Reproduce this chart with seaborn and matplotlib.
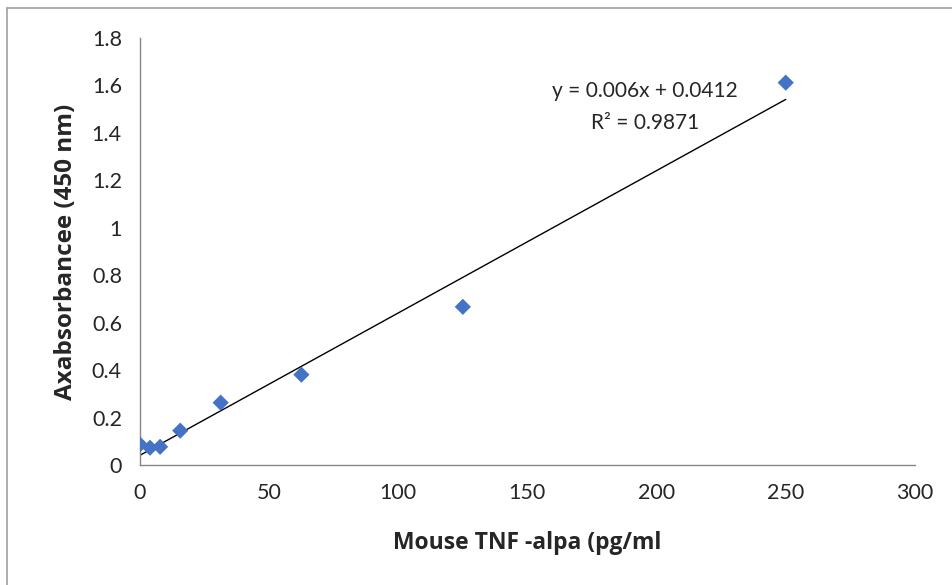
import numpy as np
import pandas as pd
import matplotlib
matplotlib.use("Agg")
import matplotlib.pyplot as plt
from matplotlib.lines import Line2D
import seaborn as sns

# standard concentrations and absorbance readings
conc = [0, 3.9, 7.8, 15.6, 31.25, 62.5, 125, 250]
absorb = [0.087, 0.073, 0.077, 0.145, 0.263, 0.381, 0.667, 1.612]
slope = 0.006
intercept = 0.0412

df = pd.DataFrame({"conc": conc, "abs": absorb})

sns.set_style("white")
plt.rcParams['font.family'] = ['Lato', 'DejaVu Sans']

fig = plt.figure(figsize=(9.52, 5.85), dpi=100)
ax = fig.add_axes([0.147, 0.205, 0.814, 0.730])

sns.scatterplot(data=df, x="conc", y="abs", marker="D", s=68,
                color="#4472C4", edgecolor="none", ax=ax, zorder=3)

# linear trendline
xs = np.array([min(conc), max(conc)])
ax.plot(xs, slope * xs + intercept, color="black", lw=1.0, zorder=2)

ax.text(0.652, 0.877, "y = 0.006x + 0.0412", transform=ax.transAxes,
        ha="center", va="center", fontsize=15)
ax.text(0.652, 0.802, "R² = 0.9871", transform=ax.transAxes,
        ha="center", va="center", fontsize=15)

ax.set_xlim(0, 300)
ax.set_ylim(0, 1.8)
ax.set_xticks(range(0, 301, 50))
ax.set_yticks(np.arange(0, 1.81, 0.2))
ax.set_yticklabels(["0", "0.2", "0.4", "0.6", "0.8", "1", "1.2", "1.4", "1.6", "1.8"])

ax.set_xlabel("Mouse TNF -alpa (pg/ml", fontsize=16.5, fontweight="bold",
              family="Open Sans", labelpad=20)
ax.set_ylabel("Axabsorbancee (450 nm)", fontsize=17.5, fontweight="bold",
              family="Open Sans", labelpad=10)

for side in ["top", "right"]:
    ax.spines[side].set_visible(False)
for side in ["left", "bottom"]:
    ax.spines[side].set_color("#868686")
    ax.spines[side].set_linewidth(1.0)
ax.tick_params(axis="both", direction="inout", length=10, width=1.0,
               color="#868686", labelsize=15.5, pad=8)
ax.grid(False)

# chart area border (left and top edges visible)
fig.add_artist(Line2D([7 / 952, 7 / 952], [0, 1 - 8 / 585], color="#a0a0a0", lw=1.2))
fig.add_artist(Line2D([7 / 952, 1], [1 - 8 / 585, 1 - 8 / 585], color="#a0a0a0", lw=1.2))

fig.savefig("out.png", dpi=100)
